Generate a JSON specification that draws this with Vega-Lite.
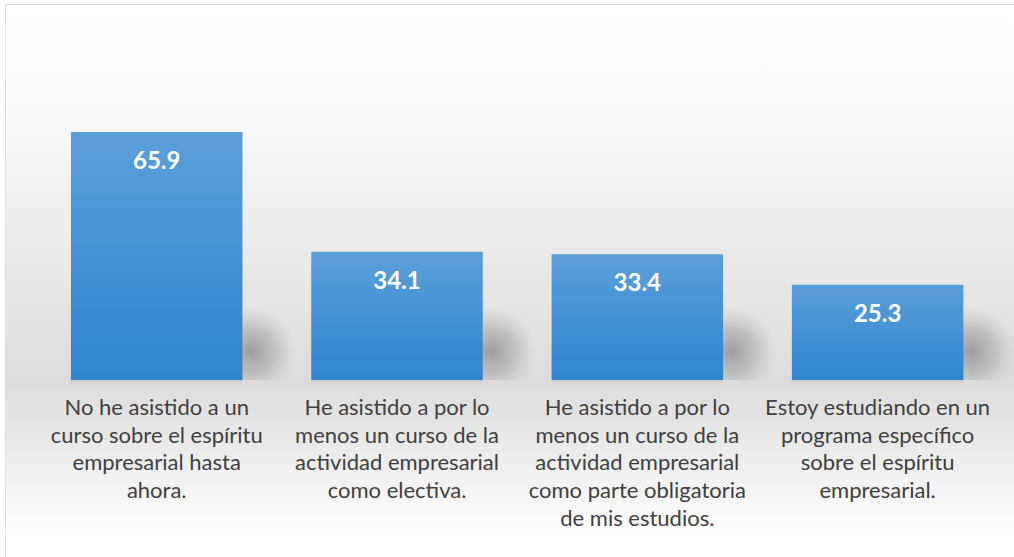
{
  "$schema": "https://vega.github.io/schema/vega-lite/v6.json",
  "width": 1008,
  "height": 552,
  "autosize": {"type": "none"},
  "padding": {"left": 6, "top": 5, "right": 0, "bottom": 0},
  "background": "white",
  "config": {"view": {"stroke": "#d4d4d4", "strokeWidth": 1.5}, "font": "Lato"},
  "data": {
    "values": [
      {"cat": "No he asistido a un|curso sobre el espíritu|empresarial hasta|ahora.", "value": 65.9, "base": 0, "sh": 26, "ln": -1.6},
      {"cat": "He asistido a por lo|menos un curso de la|actividad empresarial|como electiva.", "value": 34.1, "base": 0, "sh": 26, "ln": -1.6},
      {"cat": "He asistido a por lo|menos un curso de la|actividad empresarial|como parte obligatoria|de mis estudios.", "value": 33.4, "base": 0, "sh": 26, "ln": -1.6},
      {"cat": "Estoy estudiando en un|programa específico|sobre el espíritu|empresarial.", "value": 25.3, "base": 0, "sh": 26, "ln": -1.6}
    ]
  },
  "layer": [
    {
      "data": {"values": [{}]},
      "mark": {
        "type": "rect",
        "color": {
          "gradient": "linear",
          "x1": 0, "y1": 0, "x2": 0, "y2": 1,
          "stops": [
            {"offset": 0, "color": "#ffffff"},
            {"offset": 0.15, "color": "#fcfcfc"},
            {"offset": 0.68, "color": "#dcdcdc"},
            {"offset": 0.97, "color": "#ffffff"},
            {"offset": 1, "color": "#ffffff"}
          ]
        }
      },
      "encoding": {}
    },
    {
      "layer": [
        {
          "mark": {
            "type": "bar",
            "color": {
              "gradient": "radial",
              "x1": 0.64, "y1": 0.62, "r1": 0,
              "x2": 0.64, "y2": 0.62, "r2": 0.27,
              "stops": [
                {"offset": 0, "color": "rgba(150,150,150,0.9)"},
                {"offset": 0.5, "color": "rgba(165,165,165,0.55)"},
                {"offset": 1, "color": "rgba(200,200,200,0)"}
              ]
            }
          },
          "encoding": {
            "x": {
              "field": "cat", "type": "nominal", "sort": null,
              "scale": {"paddingInner": 0.2863, "paddingOuter": 0.2405, "align": 0.562, "range": [70, 1078]},
              "axis": null
            },
            "y": {"field": "sh", "type": "quantitative", "scale": {"domain": [-47.04, 99.65], "nice": false, "zero": false}, "axis": null},
            "y2": {"field": "base"}
          }
        },
        {
          "encoding": {
            "x": {
              "field": "cat", "type": "nominal", "sort": null,
              "scale": {"paddingInner": 0.2863, "paddingOuter": 0.2405, "align": 0.562},
              "axis": null
            }
          },
          "layer": [
            {
              "mark": {
                "type": "bar",
                "color": {
                  "gradient": "linear",
                  "x1": 0, "y1": 0, "x2": 0, "y2": 1,
                  "stops": [
                    {"offset": 0, "color": "#c9c9c9"},
                    {"offset": 1, "color": "rgba(210,210,210,0)"}
                  ]
                }
              },
              "encoding": {
                "y": {"field": "base", "type": "quantitative"},
                "y2": {"field": "ln"}
              }
            },
            {
              "mark": {
                "type": "bar",
                "color": {
                  "gradient": "linear",
                  "x1": 0, "y1": 0, "x2": 0, "y2": 1,
                  "stops": [
                    {"offset": 0, "color": "#5b9fd9"},
                    {"offset": 1, "color": "#2e85cf"}
                  ]
                }
              },
              "encoding": {
                "y": {"field": "value", "type": "quantitative"},
                "y2": {"field": "base"}
              }
            },
            {
              "mark": {"type": "text", "color": "white", "fontWeight": "bold", "fontSize": 24, "baseline": "top", "dy": 18, "font": "Lato"},
              "encoding": {
                "y": {"field": "value", "type": "quantitative"},
                "text": {"field": "value", "type": "quantitative", "format": ".1f"}
              }
            },
            {
              "mark": {"type": "text", "color": "#404040", "fontSize": 22, "baseline": "top", "dy": 18, "lineBreak": "|", "lineHeight": 27.7, "font": "Lato"},
              "encoding": {
                "y": {"field": "base", "type": "quantitative"},
                "text": {"field": "cat"}
              }
            }
          ]
        }
      ],
      "resolve": {"scale": {"x": "independent"}}
    }
  ]
}
